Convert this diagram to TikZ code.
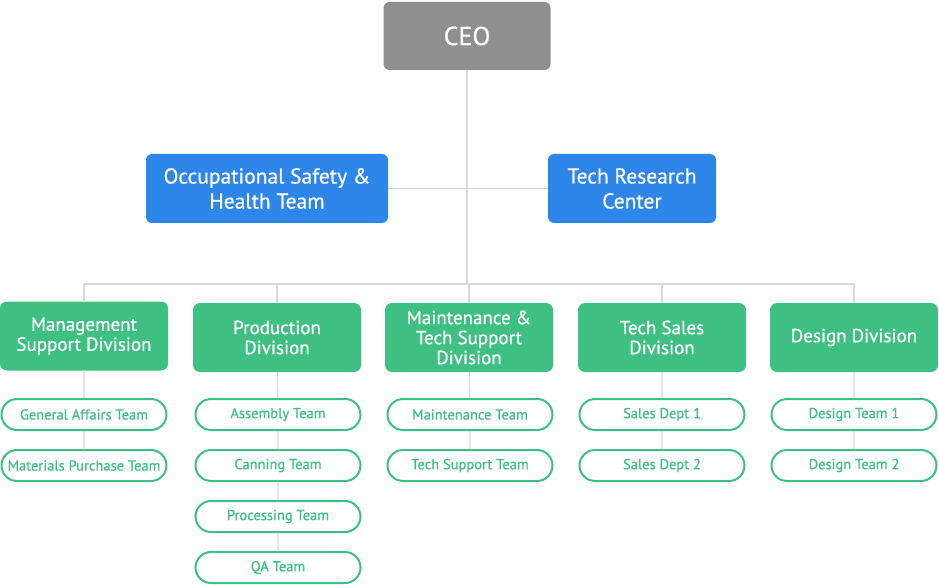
\documentclass[tikz,border=0pt]{standalone}
\usepackage{fontspec}
\setmainfont[FakeBold=0.6]{PT Sans}
\usetikzlibrary{shapes.misc}
\definecolor{ceogray}{RGB}{143,143,143}
\definecolor{teamblue}{RGB}{46,134,234}
\definecolor{divgreen}{RGB}{61,192,130}
\definecolor{linkgray}{RGB}{217,217,217}
\tikzset{
  ceobox/.style={fill=ceogray, text=white, rounded corners=6pt, minimum width=167pt, minimum height=68pt, inner sep=0pt, font=\fontsize{26}{30}\selectfont},
  bluebox/.style={fill=teamblue, text=white, rounded corners=6pt, minimum height=69pt, inner sep=0pt, align=center, font=\fontsize{21.5}{25}\selectfont},
  divbox/.style={fill=divgreen, text=white, rounded corners=7pt, minimum width=168pt, minimum height=69pt, inner sep=0pt, align=center, font=\fontsize{19}{20}\selectfont},
  teampill/.style={draw=divgreen, line width=2pt, fill=white, text=divgreen, rounded rectangle, minimum width=165pt, minimum height=31pt, inner sep=0pt, font=\fontsize{14.5}{17}\selectfont},
  link/.style={draw=linkgray, line width=1.2pt}
}
\begin{document}
\begin{tikzpicture}[x=1pt, y=-1pt]
\useasboundingbox (0,0) rectangle (939,585);
\node[ceobox] (ceo) at (467,36) {CEO};
\node[bluebox, minimum width=242pt] (osh) at (267,188.5) {Occupational Safety \&\\Health Team};
\node[bluebox, minimum width=168pt] (trc) at (632,188.5) {Tech Research\\Center};
\coordinate (hub) at (467,284);
\node[divbox] (msd) at (84,336) {Management\\Support Division};
\node[divbox] (pd) at (277,337.5) {Production\\Division};
\node[divbox] (mtsd) at (469,337.5) {Maintenance \&\\Tech Support\\Division};
\node[divbox] (tsd) at (662,337.5) {Tech Sales\\Division};
\node[divbox] (dd) at (854,337.5) {Design Division};
\node[teampill] (gat) at (84,414.5) {General Affairs Team};
\node[teampill] (mpt) at (84,465.5) {Materials Purchase Team};
\node[teampill] (at) at (278,414.5) {Assembly Team};
\node[teampill] (ct) at (278,465.5) {Canning Team};
\node[teampill] (pt) at (278,516.5) {Processing Team};
\node[teampill] (qat) at (278,567.5) {QA Team};
\node[teampill] (mt) at (470,414.5) {Maintenance Team};
\node[teampill] (tst) at (470,465.5) {Tech Support Team};
\node[teampill] (sd1) at (662,414.5) {Sales Dept 1};
\node[teampill] (sd2) at (662,465.5) {Sales Dept 2};
\node[teampill] (dt1) at (854,414.5) {Design Team 1};
\node[teampill] (dt2) at (854,465.5) {Design Team 2};
\draw[link] (ceo.south) -- (hub);
\draw[link] (osh) -- (trc);
\draw[link] (msd.north) -- (msd.north |- hub) -- (dd.north |- hub) -- (dd.north);
\draw[link] (pd.north) -- (pd.north |- hub);
\draw[link] (mtsd.north) -- (mtsd.north |- hub);
\draw[link] (tsd.north) -- (tsd.north |- hub);
\draw[link] (msd) -- (gat) -- (mpt);
\draw[link] (pd) -- (at) -- (ct) -- (pt) -- (qat);
\draw[link] (mtsd) -- (mt) -- (tst);
\draw[link] (tsd) -- (sd1) -- (sd2);
\draw[link] (dd) -- (dt1) -- (dt2);
\end{tikzpicture}
\end{document}
